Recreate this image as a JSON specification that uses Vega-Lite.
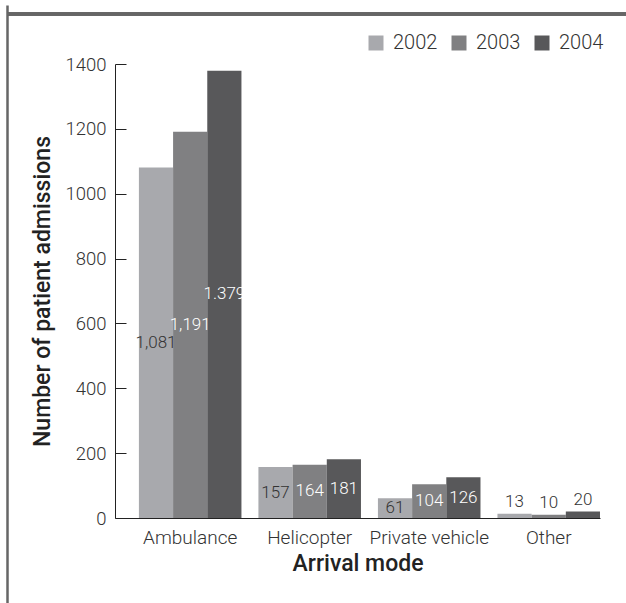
{
  "$schema": "https://vega.github.io/schema/vega-lite/v6.json",
  "autosize": "none",
  "padding": {"left": 7, "top": 5, "right": 0, "bottom": 0},
  "width": 619,
  "height": 598,
  "data": {"values": [
    {"mode": "Ambulance", "year": "2002", "value": 1081, "label": "1,081"},
    {"mode": "Ambulance", "year": "2003", "value": 1191, "label": "1,191"},
    {"mode": "Ambulance", "year": "2004", "value": 1379, "label": "1.379"},
    {"mode": "Helicopter", "year": "2002", "value": 157, "label": "157"},
    {"mode": "Helicopter", "year": "2003", "value": 164, "label": "164"},
    {"mode": "Helicopter", "year": "2004", "value": 181, "label": "181"},
    {"mode": "Private vehicle", "year": "2002", "value": 61, "label": "61"},
    {"mode": "Private vehicle", "year": "2003", "value": 104, "label": "104"},
    {"mode": "Private vehicle", "year": "2004", "value": 126, "label": "126"},
    {"mode": "Other", "year": "2002", "value": 13, "label": "13"},
    {"mode": "Other", "year": "2003", "value": 10, "label": "10"},
    {"mode": "Other", "year": "2004", "value": 20, "label": "20"}
  ]},
  "layer": [
    {
      "mark": {"type": "bar"},
      "encoding": {
        "x": {
          "field": "mode", "type": "nominal",
          "sort": ["Ambulance", "Helicopter", "Private vehicle", "Other"],
          "scale": {"range": [108, 593], "paddingInner": 0.142, "paddingOuter": 0.1, "align": 1},
          "axis": {
            "title": "Arrival mode", "labelAngle": 0, "ticks": false, "offset": -85,
            "labelPadding": 10, "titlePadding": 5
          }
        },
        "xOffset": {"field": "year", "type": "nominal", "scale": {"paddingInner": 0, "paddingOuter": 0}},
        "y": {
          "field": "value", "type": "quantitative",
          "scale": {"domain": [0, 1400], "range": [513, 59], "nice": false},
          "axis": {
            "title": "Number of patient admissions", "format": "d",
            "values": [0, 200, 400, 600, 800, 1000, 1200, 1400],
            "offset": -108, "ticks": false, "labelPadding": 9, "titlePadding": 10, "grid": false
          }
        },
        "color": {
          "field": "year", "type": "nominal",
          "scale": {"domain": ["2002", "2003", "2004"], "range": ["#a8a9ad", "#808082", "#58585a"]},
          "legend": {
            "title": null, "orient": "none", "direction": "horizontal",
            "legendX": 359, "legendY": 28, "symbolType": "square", "symbolSize": 225,
            "symbolStrokeWidth": 0, "symbolOpacity": 1, "labelFontSize": 20, "labelOffset": 7,
            "columnPadding": 11, "padding": 0
          }
        }
      }
    },
    {
      "transform": [{"filter": "datum.mode != 'Other'"}],
      "mark": {"type": "text", "fontSize": 17, "baseline": "middle", "align": "center"},
      "encoding": {
        "x": {
          "field": "mode", "type": "nominal",
          "scale": {"domain": ["Ambulance", "Helicopter", "Private vehicle", "Other"], "range": [108, 593], "paddingInner": 0.142, "paddingOuter": 0.1, "align": 1},
          "axis": null
        },
        "xOffset": {"field": "year", "type": "nominal", "scale": {"paddingInner": 0, "paddingOuter": 0}},
        "y": {
          "field": "value", "type": "quantitative",
          "scale": {"domain": [0, 2800], "range": [513, 59], "nice": false},
          "axis": null
        },
        "text": {"field": "label"},
        "color": {"condition": {"test": "datum.year == '2002'", "value": "#333333"}, "value": "#ffffff"}
      }
    },
    {
      "transform": [{"filter": "datum.mode == 'Other'"}],
      "mark": {"type": "text", "fontSize": 17, "baseline": "bottom", "align": "center", "dy": -3},
      "encoding": {
        "x": {
          "field": "mode", "type": "nominal",
          "scale": {"domain": ["Ambulance", "Helicopter", "Private vehicle", "Other"], "range": [108, 593], "paddingInner": 0.142, "paddingOuter": 0.1, "align": 1},
          "axis": null
        },
        "xOffset": {"field": "year", "type": "nominal", "scale": {"paddingInner": 0, "paddingOuter": 0}},
        "y": {
          "field": "value", "type": "quantitative",
          "scale": {"domain": [0, 1400], "range": [513, 59], "nice": false},
          "axis": {
            "orient": "right", "offset": -511, "title": null, "labels": false, "domain": false,
            "ticks": true, "tickSize": 11, "values": [0, 200, 400, 600, 800, 1000, 1200, 1400], "grid": false
          }
        },
        "text": {"field": "label"},
        "color": {"value": "#333333"}
      }
    },
    {
      "mark": {"type": "point", "opacity": 0},
      "encoding": {
        "x": {"field": "mode", "type": "nominal", "axis": null},
        "y": {
          "field": "value", "type": "quantitative",
          "axis": {"orient": "left", "title": null, "labels": false, "ticks": false, "domain": true,
                   "domainColor": "#666666", "domainWidth": 2.5, "offset": 0, "grid": false}
        }
      }
    },
    {
      "mark": {"type": "rule", "color": "#666666", "strokeWidth": 2.5},
      "encoding": {
        "y": {"datum": 0.985, "type": "quantitative", "scale": {"domain": [0, 1], "nice": false}, "axis": null}
      }
    }
  ],
  "resolve": {"scale": {"x": "independent", "y": "independent"}},
  "config": {
    "font": "Roboto",
    "view": {"stroke": null},
    "text": {"font": "Roboto", "fontWeight": 300},
    "axis": {
      "labelFont": "Roboto", "labelFontWeight": 300, "labelFontSize": 19, "labelColor": "#333333",
      "titleFont": "Roboto", "titleFontWeight": 500, "titleFontSize": 23, "titleColor": "#222222",
      "domainColor": "#222222", "tickColor": "#222222", "grid": false
    },
    "axisY": {"labelFontSize": 18.5},
    "legend": {"labelFont": "Roboto", "labelFontWeight": 300, "labelColor": "#333333"}
  }
}
